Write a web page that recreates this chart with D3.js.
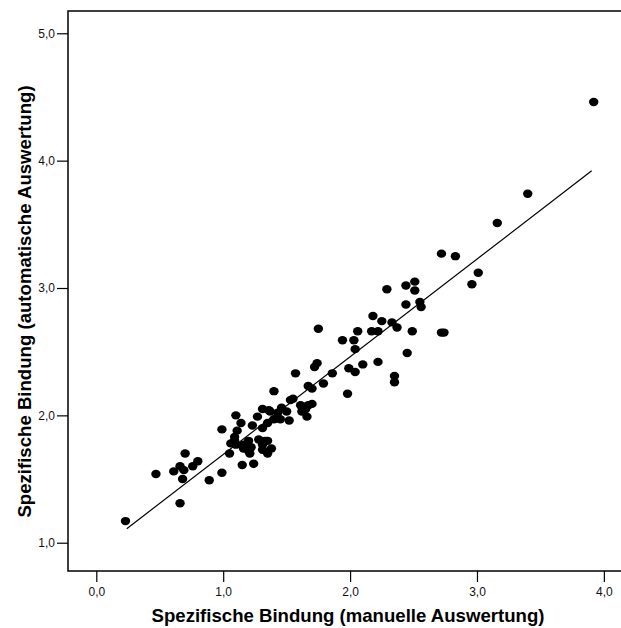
<!DOCTYPE html>
<html>
    <head>
        <meta charset="utf-8">
        <script src="https://cdn.jsdelivr.net/npm/d3@7"></script>
        <style>
            body { margin: 0; background: white; }
            text { font-family: "Liberation Sans", Arial, sans-serif; }
        </style>
    </head>
    <body>
        <svg id="fig" width="621" height="628"></svg>
        <script>
            // manuelle Auswertung (x) / automatische Auswertung (y)
            var manuell = [0.23, 0.47, 0.66, 0.61, 0.66, 0.69, 0.68, 0.70, 0.76, 0.80,
                           0.89, 0.99, 0.99, 1.05, 1.06, 1.10, 1.11, 1.14, 1.09, 1.10,
                           1.15, 1.16, 1.20, 1.22, 1.21, 1.24, 1.23, 1.27, 1.28, 1.31,
                           1.31, 1.33, 1.31, 1.35, 1.38, 1.35, 1.36, 1.35, 1.40, 1.40,
                           1.46, 1.45, 1.50, 1.52, 1.53, 1.55, 1.57, 1.61, 1.62, 1.66,
                           1.67, 1.70, 1.67, 1.70, 1.72, 1.74, 1.75, 1.79, 1.86, 1.94,
                           1.98, 1.99, 2.03, 2.04, 2.04, 2.06, 2.10, 2.17, 2.18, 2.22,
                           2.22, 2.25, 2.29, 2.33, 2.37, 2.35, 2.35, 2.44, 2.44, 2.45,
                           2.49, 2.51, 2.51, 2.55, 2.56, 2.72, 2.72, 2.74, 2.83, 2.96,
                           3.01, 3.16, 3.40, 3.92,
                           1.09, 1.31, 1.43, 1.37, 1.65, 1.20, 1.16];
            var automatisch = [1.17, 1.54, 1.31, 1.56, 1.60, 1.57, 1.50, 1.70, 1.60, 1.64,
                               1.49, 1.55, 1.89, 1.70, 1.78, 2.00, 1.88, 1.94, 1.83, 1.77,
                               1.61, 1.74, 1.80, 1.75, 1.70, 1.62, 1.92, 1.99, 1.81, 2.05,
                               1.90, 1.80, 1.73, 1.70, 1.74, 1.80, 2.04, 1.94, 1.97, 2.19,
                               2.06, 1.97, 2.03, 1.96, 2.12, 2.13, 2.33, 2.08, 2.03, 1.99,
                               2.08, 2.09, 2.23, 2.21, 2.38, 2.41, 2.68, 2.25, 2.33, 2.59,
                               2.17, 2.37, 2.59, 2.52, 2.34, 2.66, 2.40, 2.66, 2.78, 2.42,
                               2.66, 2.74, 2.99, 2.73, 2.69, 2.31, 2.26, 3.02, 2.87, 2.49,
                               2.66, 2.98, 3.05, 2.89, 2.85, 3.27, 2.65, 2.65, 3.25, 3.03,
                               3.12, 3.51, 3.74, 4.46,
                               1.80, 1.77, 2.02, 2.03, 2.05, 1.72, 1.77];

            var xTicks = [0, 1, 2, 3, 4];
            var yTicks = [1, 2, 3, 4, 5];

            // fitted line: y = fitIntercept + fitSlope * x, over fitRange
            var fitIntercept = 0.926;
            var fitSlope = 0.767;
            var fitRange = [0.24, 3.904];

            var xLabel = "Spezifische Bindung (manuelle Auswertung)";
            var yLabel = "Spezifische Bindung (automatische Auswertung)";

            const plotLeft = 68, plotRight = 621, plotTop = 11, plotBottom = 571;
            const fmt = v => v.toFixed(1).replace(".", ",");

            var x = d3.scaleLinear().domain([-0.223, 4.135]).range([plotLeft, plotRight]);
            var y = d3.scaleLinear().domain([0.778, 5.175]).range([plotBottom, plotTop]);

            var svg = d3.select("#fig");

            // frame
            svg.append("rect")
               .attr("x", plotLeft).attr("y", plotTop)
               .attr("width", plotRight - plotLeft + 2).attr("height", plotBottom - plotTop)
               .attr("fill", "none").attr("stroke", "black").attr("stroke-width", 1.5);

            // axes
            var xAxis = svg.append("g")
                           .attr("transform", "translate(0," + plotBottom + ")")
                           .call(d3.axisBottom(x).tickValues(xTicks).tickFormat(fmt).tickSize(11).tickPadding(5));
            var yAxis = svg.append("g")
                           .attr("transform", "translate(" + plotLeft + ",0)")
                           .call(d3.axisLeft(y).tickValues(yTicks).tickFormat(fmt).tickSize(11).tickPadding(2));
            [xAxis, yAxis].forEach(function(a) {
                a.select(".domain").remove();
                a.selectAll("line").attr("stroke", "black").attr("stroke-width", 1.2);
                a.selectAll("text").attr("font-size", "12px").attr("fill", "#111")
                 .style("font-family", "'Liberation Sans', Arial, sans-serif");
            });

            // fitted line
            svg.append("line")
               .attr("x1", x(fitRange[0])).attr("y1", y(fitIntercept + fitSlope * fitRange[0]))
               .attr("x2", x(fitRange[1])).attr("y2", y(fitIntercept + fitSlope * fitRange[1]))
               .attr("stroke", "black").attr("stroke-width", 1.2);

            // points
            svg.append("g").selectAll("ellipse").data(manuell)
               .enter()
               .append("ellipse")
               .attr("cx", d => x(d))
               .attr("cy", (d, i) => y(automatisch[i]))
               .attr("rx", 4.7)
               .attr("ry", 4.2)
               .attr("fill", "black");

            // axis titles
            svg.append("text")
               .attr("x", 348).attr("y", 621.5)
               .attr("text-anchor", "middle")
               .attr("font-size", "18.6px").attr("font-weight", "bold")
               .text(xLabel);
            svg.append("text")
               .attr("transform", "translate(30.5,301.5) rotate(-90)")
               .attr("text-anchor", "middle")
               .attr("font-size", "18.6px").attr("font-weight", "bold")
               .text(yLabel);
        </script>
    </body>
</html>
